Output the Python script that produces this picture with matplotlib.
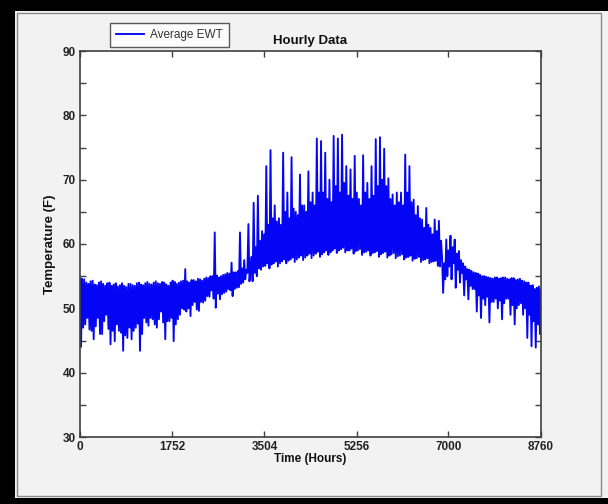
import matplotlib
matplotlib.use("Agg")
import matplotlib.pyplot as plt
from matplotlib.patches import Rectangle
import numpy as np

plt.rcParams['font.family'] = ['Liberation Sans', 'DejaVu Sans']

# Hourly average EWT (deg F), every 20 hours.
# Each 80-hour block holds four readings, in order:
#   edge_a (hour +0), edge_b (hour +20), edge_c (hour +40), edge_d (hour +60)
edge_a = [
    54.8, 54.5, 53.8, 54.3, 53.6, 54.2, 53.5, 54.0, 53.7, 53.4,
    53.9, 53.3, 53.8, 53.5, 54.0, 53.6, 54.1, 53.7, 54.2, 53.8,
    54.0, 53.5, 54.3, 53.8, 54.2, 56.1, 54.0, 54.4, 54.6, 54.3,
    54.8, 55.0, 61.8, 54.8, 55.2, 55.5, 57.1, 55.6, 61.8, 57.5,
    63.1,
    54.2, 55.0, 56.0, 56.6, 56.2, 57.0, 56.5, 57.3, 57.0, 57.6,
    57.2, 57.9, 57.5, 58.2, 57.8, 58.5, 58.0, 58.7, 58.3, 59.0,
    58.6, 59.2, 58.7, 59.0, 58.5, 59.0, 58.3, 58.8, 58.2, 58.7,
    58.0, 58.6, 57.9, 58.4, 57.8, 58.2, 57.6, 58.0, 57.4, 57.8,
    57.2, 57.6, 57.0, 57.3, 56.6,
    58.0, 60.7, 61.3, 60.7, 58.9, 57.0, 56.1, 55.8, 55.5, 55.2,
    55.0, 54.8, 54.6, 54.8, 54.7, 54.8, 54.5, 54.7, 54.5, 54.3,
    54.0, 53.5, 53.0, 53.4,
]
edge_b = [
    44.0, 47.5, 46.7, 45.2, 48.5, 46.0, 49.0, 44.4, 44.9, 46.5,
    43.4, 45.4, 45.2, 47.0, 43.4, 48.5, 47.3, 48.3, 47.0, 49.5,
    45.2, 48.0, 44.9, 48.3, 50.0, 49.5, 48.8, 51.0, 49.6, 50.9,
    51.9, 52.8, 50.1, 51.4, 52.4, 53.0, 51.9, 53.2, 53.8, 54.5,
    54.2,
    66.4, 67.5, 62.0, 72.1, 74.6, 66.0, 64.0, 74.2, 68.0, 73.5,
    65.0, 70.8, 66.0, 71.3, 68.0, 76.4, 76.0, 74.2, 70.0, 76.8,
    76.4, 77.0, 72.1, 71.6, 73.7, 67.0, 73.8, 69.5, 72.1, 76.3,
    76.6, 74.8, 70.2, 67.7, 68.0, 68.0, 73.9, 72.1, 66.9, 65.9,
    63.8, 65.6, 62.5, 63.8, 63.6,
    52.4, 55.0, 54.5, 53.2, 54.0, 52.0, 51.4, 53.0, 49.5, 48.5,
    50.5, 47.8, 51.0, 50.0, 48.3, 51.5, 49.0, 47.5, 50.5, 49.0,
    45.4, 44.1, 43.9, 46.0,
]
edge_c = [
    54.6, 54.0, 54.2, 53.7, 54.0, 53.8, 53.9, 53.5, 53.9, 53.6,
    53.5, 53.8, 53.6, 53.9, 53.7, 53.9, 53.8, 54.0, 53.9, 54.1,
    53.7, 54.0, 54.1, 54.0, 54.3, 54.2, 54.4, 54.2, 54.5, 54.6,
    54.7, 55.0, 55.1, 55.0, 55.3, 55.4, 55.6, 55.8, 56.2, 56.0,
    55.8,
    55.5, 56.2, 56.5, 57.0, 56.8, 57.3, 57.0, 57.6, 57.4, 57.9,
    57.6, 58.2, 57.9, 58.5, 58.2, 58.8, 58.4, 59.0, 58.7, 59.3,
    59.0, 59.4, 59.0, 59.3, 58.9, 59.2, 58.7, 59.0, 58.6, 58.9,
    58.4, 58.8, 58.2, 58.6, 58.1, 58.4, 57.9, 58.2, 57.7, 58.0,
    57.5, 57.8, 57.2, 57.4, 56.5,
    57.0, 59.0, 59.5, 58.5, 57.5, 56.5, 56.0, 55.6, 55.4, 55.0,
    54.9, 54.7, 54.8, 54.6, 54.8, 54.6, 54.7, 54.4, 54.6, 54.2,
    54.0, 53.6, 53.2, 53.0,
]
edge_d = [
    47.0, 48.5, 46.5, 47.2, 46.0, 48.0, 46.8, 46.5, 47.5, 46.2,
    45.8, 47.0, 46.5, 47.6, 46.0, 47.8, 48.5, 47.5, 48.3, 47.8,
    48.0, 48.5, 47.5, 49.0, 49.8, 50.0, 50.5, 49.8, 51.0, 51.2,
    51.8, 51.5, 52.3, 52.2, 52.6, 52.8, 53.0, 53.3, 54.0, 55.5,
    58.0,
    59.5, 60.5, 61.5, 63.0, 64.0, 63.5, 63.0, 65.0, 64.0, 65.5,
    64.5, 66.0, 65.0, 66.5, 66.0, 68.0, 68.0, 67.0, 66.5, 69.0,
    68.0, 69.5, 67.5, 67.0, 68.0, 66.0, 68.0, 67.0, 67.5, 69.0,
    70.0, 69.0, 67.0, 66.0, 66.5, 66.0, 68.0, 66.5, 64.5, 64.0,
    62.5, 63.0, 61.5, 62.0, 60.5,
    54.5, 56.5, 57.0, 56.0, 55.5, 54.5, 53.5, 53.0, 52.0, 51.5,
    51.8, 51.0, 51.5, 51.2, 50.8, 51.5, 50.5, 50.0, 50.8, 50.0,
    49.0, 48.0, 47.5,
]
step_hours = 20
x_ticks = [0, 1752, 3504, 5256, 7000, 8760]
y_major = [30, 40, 50, 60, 70, 80, 90]
y_minor = [35, 45, 55, 65, 75, 85]

ewt = []
for k in range(len(edge_a)):
    ewt += [edge_a[k], edge_b[k], edge_c[k]]
    if k < len(edge_d):
        ewt.append(edge_d[k])
ewt = np.array(ewt)
hours = np.arange(len(ewt)) * step_hours

W, H = 608, 504
fig = plt.figure(figsize=(W / 100, H / 100), dpi=100)
fig.patch.set_facecolor('#f2f2f2')

def px_rect(x0, y0, x1, y1, **kw):
    fig.patches.append(Rectangle((x0 / W, 1 - y1 / H), (x1 - x0) / W, (y1 - y0) / H,
                                 transform=fig.transFigure, figure=fig, **kw))

# screenshot frame
px_rect(0, 0, W, 11, facecolor='black', edgecolor='none')
px_rect(0, 0, 15, H, facecolor='black', edgecolor='none')
px_rect(0, 498, W, H, facecolor='black', edgecolor='none')
px_rect(17, 13, 601, 496, facecolor='none', edgecolor='#8a8a8a', linewidth=1.0)

ax = fig.add_axes([80 / W, 1 - 437 / H, 461 / W, 386 / H])
ax.set_facecolor('white')
line, = ax.plot(hours, ewt, color='#0505f5', linewidth=1.35, label='Average EWT')

ax.set_xlim(0, 8760)
ax.set_ylim(30, 90)
ax.set_xticks(x_ticks)
ax.set_xticklabels([str(t) for t in x_ticks])
ax.set_yticks(y_major)
ax.set_yticks(y_minor, minor=True)

for sp in ax.spines.values():
    sp.set_color('#404040')
    sp.set_linewidth(1.2)

ax.tick_params(which='both', direction='in', top=True, right=True, length=4,
               width=1.0, color='#404040', labelsize=8.5, labelcolor='#222222', pad=3)
for lbl in ax.get_xticklabels() + ax.get_yticklabels():
    lbl.set_fontweight('bold')

ax.set_xlabel('Time (Hours)', fontsize=8.5, fontweight='bold', color='#111111', labelpad=0)
ax.set_ylabel('Temperature (F)', fontsize=9.5, fontweight='bold', color='#111111', labelpad=5)
ax.set_title('Hourly Data', fontsize=9.5, fontweight='bold', color='#111111', pad=5)

leg = fig.legend(handles=[line], loc='upper left', bbox_to_anchor=(110 / W, 1 - 23 / H),
                 fontsize=8.5, frameon=True, fancybox=False, borderaxespad=0,
                 handlelength=2.4, handletextpad=0.5, borderpad=0.5)
leg.get_frame().set_edgecolor('#333333')
leg.get_frame().set_linewidth(1.0)
leg.get_frame().set_facecolor('white')
for t in leg.get_texts():
    t.set_color('#333333')

fig.savefig('out.png', dpi=100, facecolor=fig.get_facecolor())
